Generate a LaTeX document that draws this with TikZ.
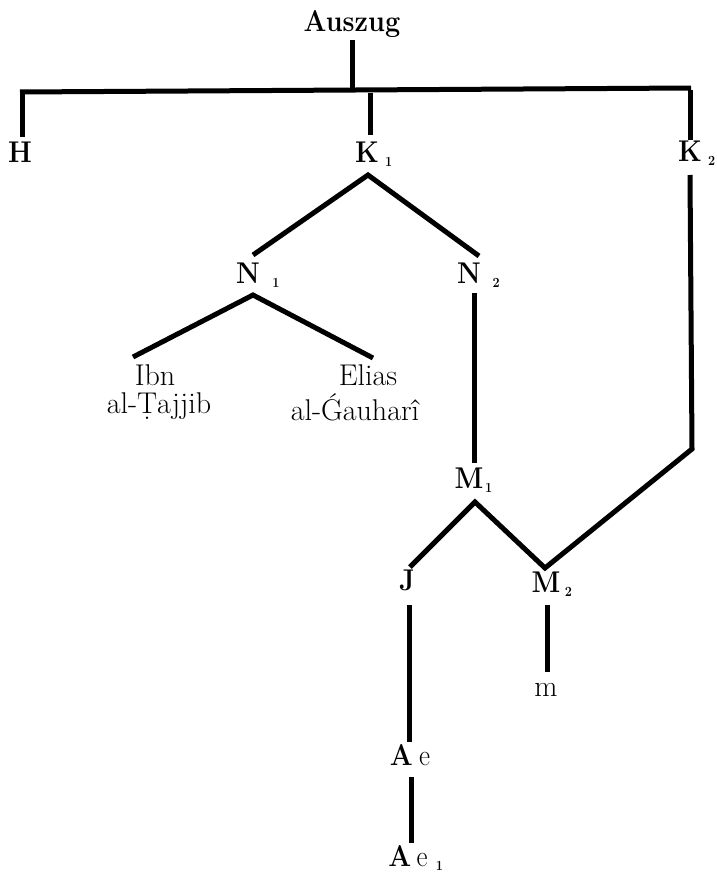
\documentclass[tikz,border=0pt]{standalone}
\usepackage{graphicx}
\newcommand\subn[2]{\rlap{\hspace{#1}\raisebox{-0.35ex}{\fontsize{14}{15}\selectfont\bfseries #2}}}
\newcommand\bl[1]{\scalebox{0.9}[1]{#1}}
\begin{document}
\begin{tikzpicture}[x=1pt,y=-1pt,
  lbl/.style={font=\fontsize{30}{33}\selectfont\bfseries, inner sep=0pt, anchor=base},
  reg/.style={font=\fontsize{30}{33}\selectfont, inner sep=0pt, anchor=base},
  edge/.style={line width=5pt, line join=miter}]
\useasboundingbox (0,0) rectangle (717,875);
% labels
\node[lbl] (ausz) at (352,32) {\bl{Auszug}};
\node[lbl] (H) at (20,162) {\bl{H}};
\node[lbl] (K1) at (367,162) {\bl{K\subn{7pt}{1}}};
\node[lbl] (K2) at (690,161) {\bl{K\subn{7pt}{2}}};
\node[lbl] (N1) at (248,283) {\bl{N\subn{14pt}{1}}};
\node[lbl] (N2) at (469,283) {\bl{N\subn{13pt}{2}}};
\node[reg] (ibn) at (155,385) {Ibn};
\node[reg] (taj) at (159,413) {al-\d{T}ajjib};
\node[reg] (eli) at (368,385) {Elias};
\node[reg] (gau) at (355,420) {al-\'Gauhar\^{\i}};
\node[lbl] (M1) at (469,488) {\bl{M\subn{2pt}{1}}};
\node[lbl] (J) at (407,590) {\bl{J}};
\node[lbl] (M2) at (546,592) {\bl{M\subn{5pt}{2}}};
\node[reg] (m) at (546,696) {m};
\node[lbl] (Ae) at (410,765) {\bl{A\hspace{7pt}\mdseries e}};
\node[lbl] (Ae1) at (408,866) {\bl{A\hspace{6pt}\mdseries e\subn{9pt}{1}}};
% junction coordinates
\coordinate (auszB) at (352,40);
\coordinate (barM) at (352,90);
\coordinate (barL) at (20,92);
\coordinate (barR) at (691,88);
\coordinate (Hb) at (22,91);
\coordinate (Hc) at (22,137);
\coordinate (K1a) at (370,93);
\coordinate (K1b) at (370,135);
\coordinate (K2a) at (690,90);
\coordinate (K2b) at (690,140);
\coordinate (K2c) at (690,175);
\coordinate (K2d) at (692,449);
\coordinate (K1ap) at (368,175);
\coordinate (N1t) at (253,255);
\coordinate (N2t) at (479,256);
\coordinate (N1ap) at (253,295);
\coordinate (ibnT) at (133,357);
\coordinate (eliT) at (373,358);
\coordinate (N2b) at (474,293);
\coordinate (M1t) at (474,463);
\coordinate (M1ap) at (475,502);
\coordinate (Jt) at (410,567);
\coordinate (M2ap) at (545,568);
\coordinate (Ja) at (409,605);
\coordinate (Jb) at (409,742);
\coordinate (M2a) at (547,605);
\coordinate (M2b) at (547,672);
\coordinate (Aea) at (411,777);
\coordinate (Aeb) at (411,843);
% connectors
\draw[edge] (auszB) -- (barM);
\draw[edge] (barL) -- (barR);
\draw[edge] (Hb) -- (Hc);
\draw[edge] (K1a) -- (K1b);
\draw[edge] (K2a) -- (K2b);
\draw[edge] (K2c) -- (K2d) -- (M2ap) -- (M1ap) -- (Jt);
\draw[edge] (N1t) -- (K1ap) -- (N2t);
\draw[edge] (ibnT) -- (N1ap) -- (eliT);
\draw[edge] (N2b) -- (M1t);
\draw[edge] (Ja) -- (Jb);
\draw[edge] (M2a) -- (M2b);
\draw[edge] (Aea) -- (Aeb);
\end{tikzpicture}
\end{document}
